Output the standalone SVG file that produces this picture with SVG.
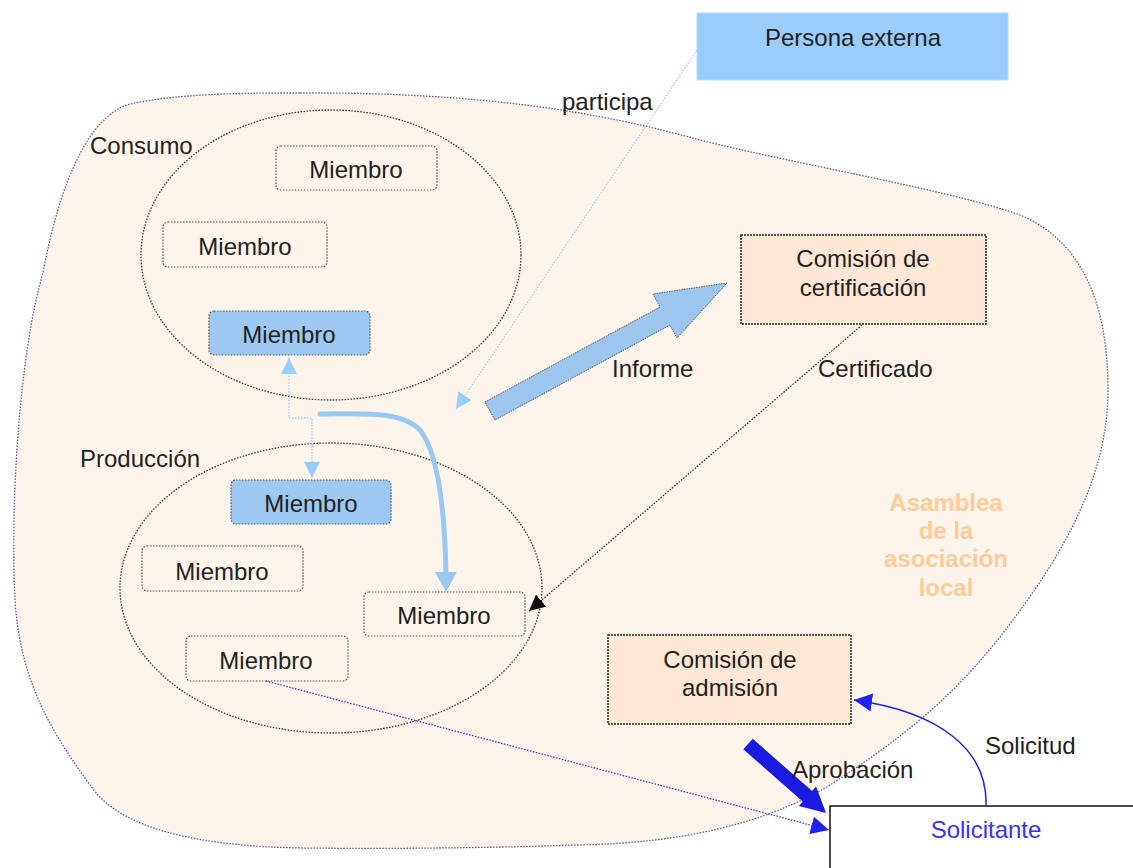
<svg xmlns="http://www.w3.org/2000/svg" width="1133" height="868" viewBox="0 0 1133 868">
<defs>
<style>
text{font-family:"Liberation Sans",Arial,sans-serif;font-size:24px;fill:#222}
.c{text-anchor:middle}
.mem{fill:none;stroke:#555;stroke-width:1.2;stroke-dasharray:1.5 1.5}
.memb{fill:#9dc8f1;stroke:#555;stroke-width:1.2;stroke-dasharray:1.5 1.5}
.ell{fill:none;stroke:#333;stroke-width:1.3;stroke-dasharray:1.5 1.5}
.com{fill:#fde8d5;stroke:#222;stroke-width:1.5;stroke-dasharray:2 1}
.asm{font-weight:bold;fill:#ffcc99}
</style>
<marker id="aLB" viewBox="0 0 10 10" refX="10" refY="5" markerWidth="16" markerHeight="16" markerUnits="userSpaceOnUse" orient="auto-start-reverse"><path d="M0,0 L10,5 L0,10 Z" fill="#99ccff"/></marker>
<marker id="aBK" viewBox="0 0 10 10" refX="10" refY="5" markerWidth="16" markerHeight="16" markerUnits="userSpaceOnUse" orient="auto"><path d="M0,0 L10,5 L0,10 Z" fill="#111"/></marker>
<marker id="aBL" viewBox="0 0 10 10" refX="10" refY="5" markerWidth="18" markerHeight="18" markerUnits="userSpaceOnUse" orient="auto"><path d="M0,0 L10,5 L0,10 Z" fill="#2222ee"/></marker>
</defs>
<rect width="1133" height="868" fill="#fff"/>
<g id="asamblea">
<path d="M300,93 C480,92 600,112 700,140 C800,165 950,190 1020,215 C1080,240 1108,300 1108,390 C1108,480 1060,560 1000,637 C950,700 900,740 827,787 C760,825 680,843 580,845 C480,848 400,849 300,848 C200,846 120,830 90,785 C50,730 20,680 15,600 C10,500 20,350 43,273 C60,180 90,115 130,104 C180,93 250,93 300,93 Z" fill="#fdf5ec" stroke="#5a5aa8" stroke-width="1.3" stroke-dasharray="1.5 1.5"/>
<text class="c asm" x="946" y="511">Asamblea</text>
<text class="c asm" x="946" y="539">de la</text>
<text class="c asm" x="946" y="567">asociación</text>
<text class="c asm" x="946" y="596">local</text>
</g>
<g id="consumo">
<ellipse class="ell" cx="331" cy="255" rx="190" ry="145"/>
<text x="90" y="154">Consumo</text>
</g>
<g id="produccion">
<ellipse class="ell" cx="331" cy="588" rx="211" ry="145"/>
<text x="80" y="467">Producción</text>
</g>
<g id="m1"><rect class="mem" x="276" y="146" width="161" height="44" rx="5"/><text class="c" x="356" y="178">Miembro</text></g>
<g id="m2"><rect class="mem" x="163" y="222" width="164" height="45" rx="5"/><text class="c" x="245" y="255">Miembro</text></g>
<g id="m3"><rect class="memb" x="209" y="311" width="161" height="44" rx="5"/><text class="c" x="289" y="343">Miembro</text></g>
<g id="m4"><rect class="memb" x="231" y="480" width="160" height="44" rx="5"/><text class="c" x="311" y="512">Miembro</text></g>
<g id="m5"><rect class="mem" x="142" y="546" width="161" height="45" rx="5"/><text class="c" x="222" y="580">Miembro</text></g>
<g id="m6"><rect class="mem" x="364" y="592" width="161" height="44" rx="5"/><text class="c" x="444" y="624">Miembro</text></g>
<g id="m7"><rect class="mem" x="186" y="636" width="162" height="45" rx="5"/><text class="c" x="266" y="669">Miembro</text></g>
<g id="persona"><rect x="697" y="13" width="311" height="67" fill="#99ccff" stroke="#b8dbff" stroke-width="1"/><text class="c" x="853" y="46">Persona externa</text></g>
<g id="certificacion"><rect class="com" x="741" y="235" width="245" height="89"/><text class="c" x="863" y="267">Comisión de</text><text class="c" x="863" y="296">certificación</text></g>
<g id="admision"><rect class="com" x="608" y="635" width="243" height="89"/><text class="c" x="730" y="668">Comisión de</text><text class="c" x="730" y="696">admisión</text></g>
<g id="solicitante"><rect x="830" y="806" width="320" height="80" fill="#fff" stroke="#111" stroke-width="1.5"/><text class="c" x="986" y="838" style="fill:#3333ff">Solicitante</text></g>
<g id="connectors">
<path d="M697,50 L456,409" fill="none" stroke="#99ccff" stroke-width="1.2" stroke-dasharray="1.5 1.5" marker-end="url(#aLB)"/>
<path d="M289,358 V418 H312 V478" fill="none" stroke="#99ccff" stroke-width="1.3" stroke-dasharray="1.5 1.5" marker-start="url(#aLB)" marker-end="url(#aLB)"/>
<path d="M320,414 C360,414 400,410 420,430 C440,455 445,520 446,575" fill="none" stroke="#99c8f0" stroke-width="5" stroke-linecap="round"/>
<polygon points="435,572 457,572 446,592" fill="#99c8f0"/>
<polygon points="485,402 660,307 653,294 727,283 677,338 670,325 495,420" fill="#9dc6ef" stroke="#555" stroke-width="1" stroke-dasharray="1.5 1"/>
<path d="M862,325 L529,611" fill="none" stroke="#222" stroke-width="1.2" stroke-dasharray="1.5 1.5" marker-end="url(#aBK)"/>
<path d="M266,681 L829,830" fill="none" stroke="#3333ff" stroke-width="1.3" stroke-dasharray="1.5 1.5" marker-end="url(#aBL)"/>
<polygon points="752.7,738.8 812.1,791.1 816.1,786.6 826,813 798.7,806 802.7,801.5 743.3,749.2" fill="#1a1ae0"/>
<path d="M986,806 C988,750 940,712 854,700" fill="none" stroke="#2222ee" stroke-width="1.5" marker-end="url(#aBL)"/>
<text x="562" y="110">participa</text>
<text x="612" y="377">Informe</text>
<text x="818" y="377">Certificado</text>
<text x="792" y="778">Aprobación</text>
<text x="985" y="754">Solicitud</text>
</g>
</svg>
